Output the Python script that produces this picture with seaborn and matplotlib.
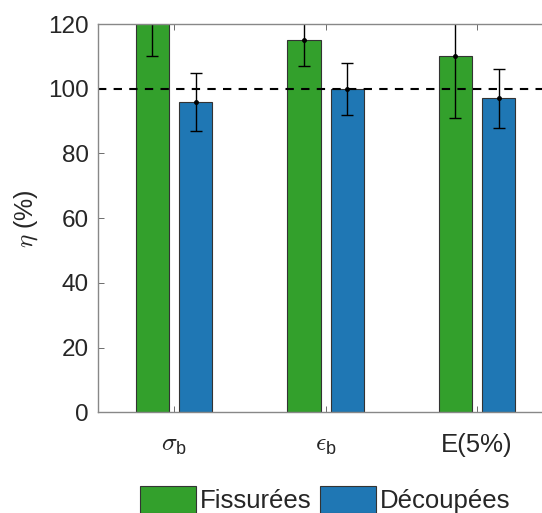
import seaborn as sns
import pandas as pd
import matplotlib.pyplot as plt

# Data
categories = [r'$\sigma_{\mathregular{b}}$', r'$\epsilon_{\mathregular{b}}$', 'E(5%)']
groups = ['Fissurées', 'Découpées']
fissurees = [122, 115, 110]
fissurees_err = [12, 8, 19]
decoupees = [96, 100, 97]
decoupees_err = [9, 8, 9]

df = pd.DataFrame({
    'cat': categories * 2,
    'group': [groups[0]] * 3 + [groups[1]] * 3,
    'eta': fissurees + decoupees,
})
errs = {groups[0]: fissurees_err, groups[1]: decoupees_err}
vals = {groups[0]: fissurees, groups[1]: decoupees}

sns.set_style('ticks')
plt.rcParams['font.family'] = ['Liberation Sans', 'DejaVu Sans']
plt.rcParams['mathtext.fontset'] = 'cm'
grey = '#262626'

fig = plt.figure(figsize=(5.42, 5.13), dpi=100)
ax = fig.add_axes([0.1814, 0.1963, 0.8386, 0.7569])

palette = {groups[0]: '#33a02c', groups[1]: '#1f77b4'}
sns.barplot(data=df, x='cat', y='eta', hue='group', palette=palette,
            width=0.57, gap=0.23, edgecolor='#333333', linewidth=0.8,
            saturation=1, errorbar=None, legend=False, ax=ax)

# error bars centred on each bar
for cont, g in zip(ax.containers, groups):
    xs = [b.get_x() + b.get_width() / 2 for b in cont]
    ax.errorbar(xs, vals[g], yerr=errs[g], fmt='.', color='black',
                markersize=5, elinewidth=1, capsize=4.3, capthick=1)

ax.axhline(100, color='black', linestyle='--', linewidth=1.5, dashes=(4, 3.5))

ax.set_ylim(0, 120)
ax.set_xlim(-0.5, 2.5)
ax.set_yticks(range(0, 121, 20))
ax.set_xlabel('')
ax.set_ylabel(r'$\eta$ (%)', fontsize=18, color=grey, labelpad=6)
ax.tick_params(axis='both', direction='in', length=4, width=0.6,
               colors='#555555', labelcolor=grey, labelsize=17.5)
ax.tick_params(axis='y', pad=7)
ax.tick_params(axis='x', top=True, pad=15, labelsize=18.5)
for s in ['left', 'bottom', 'top', 'right']:
    ax.spines[s].set_color('#888888')
    ax.spines[s].set_linewidth(1)

handles = [plt.Rectangle((0, 0), 1, 1, facecolor=palette[g], edgecolor='#333333', linewidth=0.8)
           for g in groups]
fig.legend(handles, groups, loc='upper center', bbox_to_anchor=(0.6, 0.052),
           ncol=2, frameon=False, fontsize=18.5, handlelength=2.15, handleheight=1.2,
           handletextpad=0.16, columnspacing=0.35, borderaxespad=0, borderpad=0)

fig.savefig('out.png', dpi=100)
